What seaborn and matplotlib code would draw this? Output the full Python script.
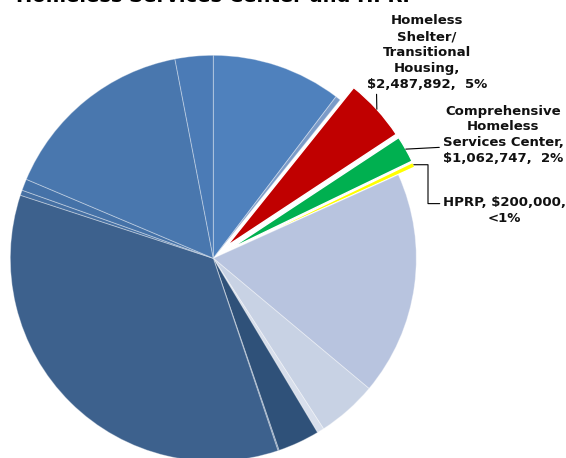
import matplotlib
matplotlib.use("Agg")
import matplotlib.pyplot as plt
import seaborn as sns
import numpy as np

sns.set_theme(style="white")
plt.rcParams["font.family"] = ["DejaVu Sans"]

# Funding sources, clockwise from 12 o'clock (dollars)
categories = [
    "Source A", "Source B", "Homeless Shelter/Transitional Housing",
    "Comprehensive Homeless Services Center", "HPRP", "Source C",
    "Source D", "Source E", "Source F", "Source G", "Source H",
    "Source I", "Source J", "Source K", "Source L",
]
amounts = [
    5167000, 208000, 2487892, 1062747, 200000, 8917000,
    2389000, 278000, 1667000, 42000, 17597000,
    208000, 458000, 7806000, 1514000,
]
colors = [
    "#4f81bd", "#7b9bc8", "#c00000", "#00b050", "#ffff00", "#b8c4df",
    "#c8d2e4", "#d8dfec", "#2f5179", "#4a6d98", "#3d618d",
    "#4670a3", "#4572a8", "#4977ae", "#4b7bb6",
]
highlight = [False, False, True, True, True, False,
             False, False, False, False, False,
             False, False, False, False]

title = "Homeless Services Center and HPRP"

W, H, DPI = 566, 458, 100
fig = plt.figure(figsize=(W / DPI, H / DPI), dpi=DPI)
ax = fig.add_axes([0, 0, 1, 1])

# pixel geometry of the pie (center and radius in pixels)
cx, cy, rad = 213.3, 258.3, 203.0

def px(x, y):
    return ((x - cx) / rad, (cy - y) / rad)

explode = [0.09 if h else 0.0 for h in highlight]
wedges, _ = ax.pie(
    amounts, colors=colors, explode=explode, startangle=90,
    counterclock=False, radius=1.0,
    wedgeprops=dict(edgecolor=(1, 1, 1, 0.35), linewidth=0.7),
)
for w, h in zip(wedges, highlight):
    if h:
        w.set_edgecolor("white")
        w.set_linewidth(1.0)

x0, y0 = px(0, H)
x1, y1 = px(W, 0)
ax.set_xlim(x0, x1)
ax.set_ylim(y0, y1)
ax.set_aspect("auto")
ax.axis("off")

total = sum(amounts)

def pct_text(v):
    p = v / total * 100
    return "<1%" if p < 1 else f"{p:.0f}%"

def outer_point(w, frac=0.5):
    ang = np.deg2rad(w.theta1 + (w.theta2 - w.theta1) * frac)
    c = w.center
    return (c[0] + w.r * np.cos(ang), c[1] + w.r * np.sin(ang))

lab_kw = dict(fontsize=9.5, fontweight="bold", color="#111111",
              multialignment="center", linespacing=1.3)

# Shelter / transitional housing
i = 2
ax.annotate(
    "Homeless\nShelter/\nTransitional\nHousing,\n" + f"${amounts[i]:,},  {pct_text(amounts[i])}",
    xy=outer_point(wedges[i]), xytext=px(427, 91), ha="center", va="bottom",
    arrowprops=dict(arrowstyle="-", color="black", lw=0.8, relpos=(0.08, 0.0),
                    shrinkA=0, shrinkB=0),
    **lab_kw,
)

# Comprehensive homeless services center
i = 3
ax.annotate(
    "Comprehensive\nHomeless\nServices Center,\n" + f"${amounts[i]:,},  {pct_text(amounts[i])}",
    xy=outer_point(wedges[i]), xytext=px(503, 135), ha="center", va="center",
    arrowprops=dict(arrowstyle="-", color="black", lw=0.8, relpos=(0.0, 0.3),
                    shrinkA=0, shrinkB=0),
    **lab_kw,
)

# HPRP (elbow leader; arm lengths are display pixels)
i = 4
ax.annotate(
    f"HPRP, ${amounts[i]:,},\n{pct_text(amounts[i])}",
    xy=outer_point(wedges[i]), xytext=px(443, 210), ha="left", va="center",
    arrowprops=dict(arrowstyle="-", color="black", lw=0.8, relpos=(0.0, 0.72),
                    shrinkA=0, shrinkB=0,
                    connectionstyle="arc,angleA=180,armA=15,angleB=0,armB=14.2,rad=0"),
    **lab_kw,
)

fig.text(216 / W, 1 - 2.5 / H, title, ha="center", va="baseline",
         fontsize=14, fontweight="bold", color="black")

fig.savefig("out.png", dpi=DPI, facecolor="white")
